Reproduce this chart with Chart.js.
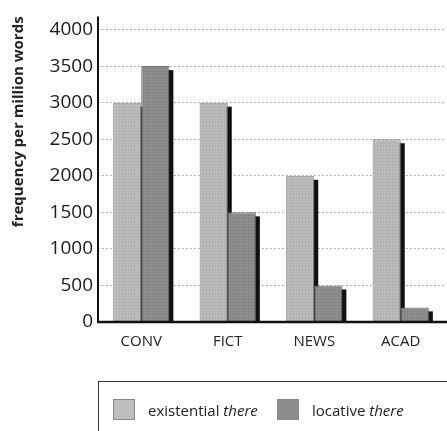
<!DOCTYPE html>
<html><head><meta charset="utf-8">
<script src="https://cdn.jsdelivr.net/npm/chart.js@4"></script>
<style>
html,body{margin:0;padding:0;background:#fff;}
#wrap{position:relative;width:447px;height:431px;overflow:hidden;}
#c{position:absolute;left:0;top:0;}
#legend{position:absolute;left:98px;top:381px;width:360px;height:60px;border:1.5px solid #333;box-sizing:border-box;font-family:"Open Sans",sans-serif;font-size:15px;color:#222;}
.item{position:absolute;top:17px;display:flex;align-items:center;}
.sw{width:22px;height:21px;border:1px solid #888;box-sizing:border-box;margin-right:13px;}
</style></head>
<body><div id="wrap"><canvas id="c" width="447" height="431"></canvas>
<div id="legend">
<div class="item" style="left:14px"><span class="sw" id="sw0"></span><span>existential <i>there</i></span></div>
<div class="item" style="left:178px"><span class="sw" id="sw1"></span><span>locative <i>there</i></span></div>
</div></div>
<script>
const categories = ["CONV", "FICT", "NEWS", "ACAD"];
const existential = [3000, 3000, 2000, 2500];
const locative = [3500, 1500, 500, 200];
const seriesNames = ["existential there", "locative there"];
const yTicks = [0, 500, 1000, 1500, 2000, 2500, 3000, 3500, 4000];

function makePattern(base, line){
  const p = document.createElement('canvas'); p.width = 3; p.height = 3;
  const g = p.getContext('2d');
  g.fillStyle = base; g.fillRect(0,0,3,3);
  g.fillStyle = line; g.fillRect(0,2,3,1); g.fillRect(2,0,1,3);
  return document.getElementById('c').getContext('2d').createPattern(p,'repeat');
}
const fillA = makePattern('#bdbdbd', '#b3b3b3');
const fillB = makePattern('#8f8f8f', '#868686');
document.getElementById('sw0').style.background = '#bdbdbd';
document.getElementById('sw1').style.background = '#8d8d8d';

const shadowPlugin = {
  id: 'shadow',
  beforeDatasetsDraw(chart){
    const ctx = chart.ctx; ctx.save(); ctx.fillStyle = '#111';
    chart.data.datasets.forEach((ds, i) => {
      chart.getDatasetMeta(i).data.forEach(el => {
        const w = el.width, x = el.x - w/2 + 4, y = el.y + 4;
        ctx.fillRect(x, y, w, el.base - y);
      });
    });
    ctx.restore();
  },
  afterDatasetsDraw(chart){
    const ctx = chart.ctx, a = chart.chartArea;
    const y0 = chart.scales.y.getPixelForValue(0);
    ctx.save(); ctx.strokeStyle = '#111'; ctx.lineWidth = 2.5;
    ctx.beginPath(); ctx.moveTo(a.left - 1, y0); ctx.lineTo(447, y0); ctx.stroke();
    ctx.lineWidth = 2;
    ctx.beginPath(); ctx.moveTo(a.left, a.top); ctx.lineTo(a.left, y0); ctx.stroke();
    ctx.restore();
  }
};

new Chart(document.getElementById('c'), {
  type: 'bar',
  data: {
    labels: categories,
    datasets: [
      {label: seriesNames[0], data: existential, backgroundColor: fillA, borderColor: '#8a8a8a', borderWidth: 1},
      {label: seriesNames[1], data: locative, backgroundColor: fillB, borderColor: '#6e6e6e', borderWidth: 1}
    ]
  },
  options: {
    responsive: false, animation: false,
    layout: {padding: {top: 0, right: 3, bottom: 77, left: 4}},
    plugins: {legend: {display: false}, tooltip: {enabled: false}},
    datasets: {bar: {categoryPercentage: 0.65, barPercentage: 1.0}},
    scales: {
      x: {
        grid: {display: false}, border: {display: false},
        ticks: {color: '#222', font: {family: 'Open Sans', size: 15}, padding: 3}
      },
      y: {
        min: 0, max: 4180,
        afterBuildTicks(s){ s.ticks = yTicks.map(v => ({value: v})); },
        afterFit(s){ s.width = 94; },
        grid: {color: '#999', lineWidth: 1, drawTicks: false},
        border: {display: false, dash: [1.5, 2.5]},
        ticks: {color: '#1a1a1a', font: {family: 'Open Sans', size: 19}, padding: 5, callback: v => String(v)},
        title: {display: true, text: 'frequency per million words', align: 'end', color: '#222',
                font: {family: 'Open Sans', size: 15, weight: 'bold'}, padding: {top: 6, bottom: 0}}
      }
    }
  },
  plugins: [shadowPlugin]
});
</script></body></html>
